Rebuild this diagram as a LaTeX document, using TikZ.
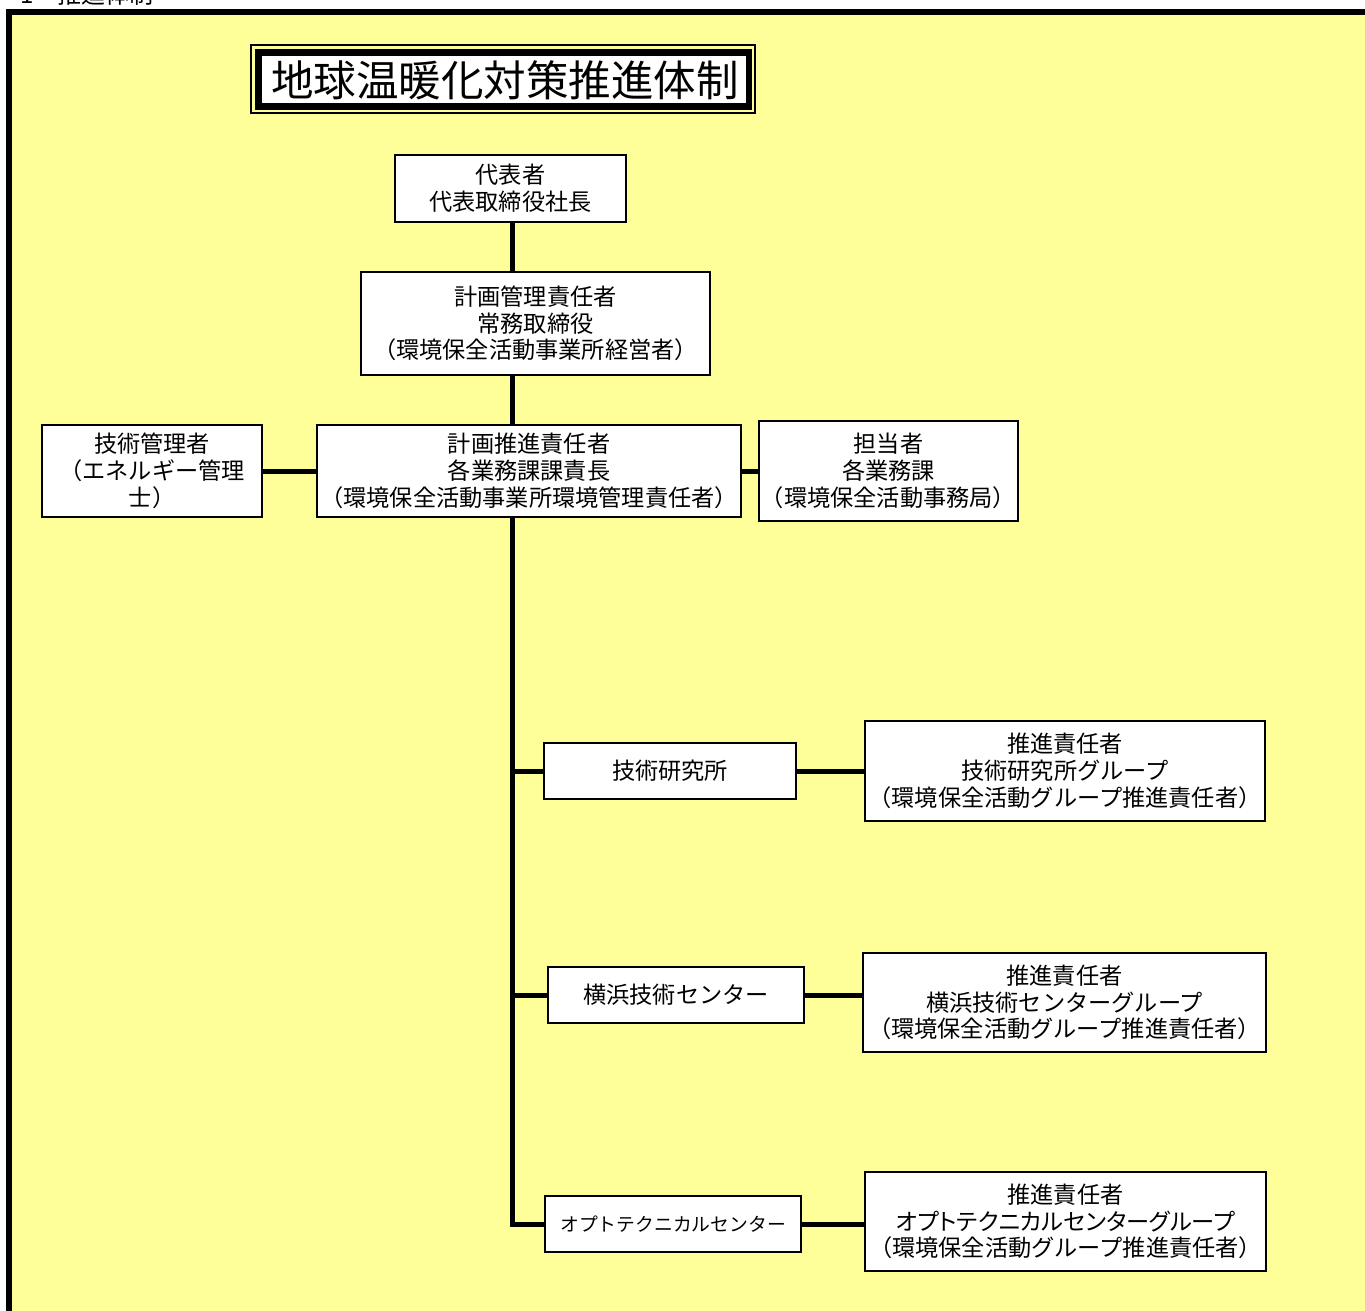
\documentclass[tikz,border=0pt]{standalone}
\usepackage{fontspec}
\setmainfont{Noto Sans CJK JP}
\newfontfamily\cjk{Noto Sans CJK JP}
\newfontfamily\cjkp[RawFeature=+palt]{Noto Sans CJK JP}
\definecolor{bgyellow}{RGB}{255,255,153}
\begin{document}
\begin{tikzpicture}[x=1pt,y=-1pt,
  orgbox/.style={draw=black,line width=2pt,fill=white,inner sep=0pt,align=center,
    font=\cjk\fontsize{23.2}{26.7}\selectfont},
  link/.style={line width=5pt,draw=black}]
\useasboundingbox (0,0) rectangle (1365,1311);
% heading (cut off)
\node[anchor=base west,font=\cjk\fontsize{24}{24}\selectfont,inner sep=0pt] (head) at (20,4) {1\hspace{24pt}推進体制};
% frame
\draw[line width=6pt,fill=bgyellow] (9,12) rectangle (1420,1360);
% title
\draw[line width=1.2pt] (251,45) rectangle (755,113);
\fill[black] (255,49) rectangle (752,110);
\fill[white] (262,56) rectangle (746,103);
\node[font=\cjk\fontsize{42.5}{42.5}\selectfont,inner sep=0pt] (title) at (505,80) {地球温暖化対策推進体制};
% boxes
\node[orgbox,minimum width=231pt,minimum height=67pt] (rep) at (510.5,188.5) {代表者\\代表取締役社長};
\node[orgbox,minimum width=349pt,minimum height=103pt] (plan) at (535.5,323.5) {計画管理責任者\\常務取締役\\（環境保全活動事業所経営者）};
\node[orgbox,minimum width=424pt,minimum height=92pt] (prom) at (529,471) {計画推進責任者\\各業務課課責長\\（環境保全活動事業所環境管理責任者）};
\node[orgbox,minimum width=220pt,minimum height=92pt] (tech) at (152,471) {技術管理者\\（エネルギー管理\\士）};
\node[orgbox,minimum width=259pt,minimum height=100pt] (staff) at (888.5,471) {担当者\\各業務課\\（環境保全活動事務局）};
\node[orgbox,minimum width=252pt,minimum height=56pt] (lab) at (670,771) {技術研究所};
\node[orgbox,minimum width=400pt,minimum height=100pt] (labg) at (1065,771) {推進責任者\\技術研究所グループ\\（環境保全活動グループ推進責任者）};
\node[orgbox,minimum width=256pt,minimum height=56pt] (yoko) at (676,995) {横浜技術センター};
\node[orgbox,minimum width=403pt,minimum height=99pt] (yokog) at (1064.5,1002.5) {推進責任者\\横浜技術センターグループ\\（環境保全活動グループ推進責任者）};
\node[orgbox,minimum width=256pt,minimum height=56pt,font=\cjk\fontsize{18.8}{22}\selectfont] (opt) at (673,1224) {オプトテクニカルセンター};
\node[orgbox,minimum width=401pt,minimum height=99pt] (optg) at (1065.5,1221.5) {推進責任者\\{\cjkp オプトテクニカルセンターグループ}\\（環境保全活動グループ推進責任者）};
% connectors
\coordinate (trunk) at (512,1224);
\draw[link] (512,0 |- rep.south) -- (512,0 |- plan.north);
\draw[link] (512,0 |- plan.south) -- (512,0 |- prom.north);
\draw[link,line join=miter] (512,0 |- prom.south) -- (trunk) -- (opt.west);
\draw[link] (512,0 |- lab.west) -- (lab.west);
\draw[link] (512,0 |- yoko.west) -- (yoko.west);
\draw[link] (tech.east) -- (prom.west);
\draw[link] (prom.east) -- (staff.west);
\draw[link] (lab.east) -- (lab.east -| labg.west);
\draw[link] (yoko.east) -- (yoko.east -| yokog.west);
\draw[link] (opt.east) -- (opt.east -| optg.west);
\end{tikzpicture}
\end{document}
